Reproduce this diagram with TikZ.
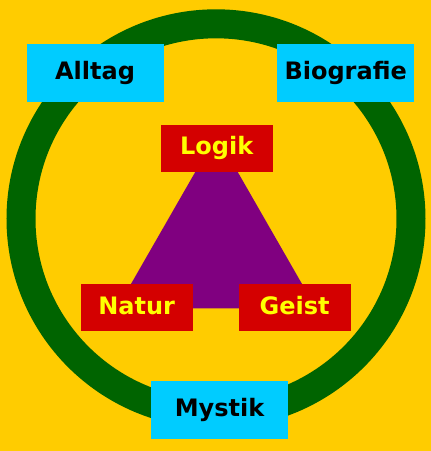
\documentclass[tikz,border=0pt]{standalone}
\usepackage{fontspec}
\setmainfont{DejaVu Sans}
\usepackage{xcolor}
\definecolor{bggold}{HTML}{FFCC00}
\definecolor{ringgreen}{HTML}{006400}
\definecolor{boxcyan}{HTML}{00CCFF}
\definecolor{boxred}{HTML}{D40000}
\definecolor{tripurple}{HTML}{800080}
\definecolor{txtyellow}{HTML}{FFFF00}

\begin{document}
\begin{tikzpicture}[x=1pt,y=-1pt]
        % Box style definitions
        \tikzset{
            boxtext/.style={inner sep=0pt, text height=18.2pt, text depth=5.5pt, font=\fontsize{24}{28}\selectfont\bfseries},
            outerbox/.style={boxtext, fill=boxcyan, text=black, minimum width=137pt, minimum height=58pt},
            innerbox/.style={boxtext, fill=boxred, text=txtyellow, minimum width=112pt, minimum height=47pt},
            ring/.style={ringgreen, line width=29pt}
        }

        % ==========================================
        % BACKGROUND AND RING
        % ==========================================

        \fill[bggold] (0,0) rectangle (431,451);
        \useasboundingbox (0,0) rectangle (431,451);
        \draw[ring] (216,218.8) circle[radius=195];

        % ==========================================
        % TRIANGLE
        % ==========================================

        \coordinate (top) at (216.5,135);
        \coordinate (left) at (117,308.3);
        \coordinate (right) at (316,308.3);
        \fill[tripurple] (top) -- (left) -- (right) -- cycle;

        \node[innerbox] (logik) at (216.7,148.5) {Logik};
        \node[innerbox] (natur) at (136.7,307.8) {Natur};
        \node[innerbox] (geist) at (294.7,307.8) {Geist};

        % ==========================================
        % OUTER BOXES ON THE RING
        % ==========================================

        \node[outerbox] (alltag) at (95,72.7) {Alltag};
        \node[outerbox] (biografie) at (345.7,72.7) {Biografie};
        \node[outerbox] (mystik) at (219.5,410) {Mystik};
    \end{tikzpicture}
\end{document}
